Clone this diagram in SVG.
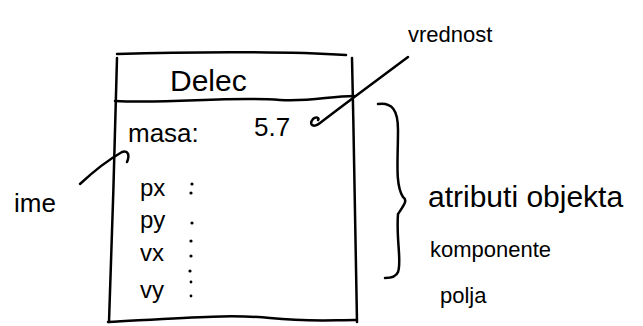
<svg xmlns="http://www.w3.org/2000/svg" width="643" height="326" viewBox="0 0 643 326">
<style>
.ln{fill:none;stroke:#000;stroke-width:2.5;stroke-linecap:round;stroke-linejoin:round}
.t{font-family:"Liberation Sans","DejaVu Sans",sans-serif;font-size:26px;fill:#000}
.b{font-size:30px}
.s{font-size:24px}
.r{font-size:22px}
</style>
<rect width="643" height="326" fill="#fff"/>
<g id="delec">
<path class="ln" d="M117,54 C180,52 280,51 346,55"/>
<path class="ln" d="M117,58 C115,130 112,250 109,322"/>
<path class="ln" d="M352,58 C354,150 356,250 357,322"/>
<path class="ln" d="M115,101 C170,104 230,96 280,100 C310,102 330,96 354,96"/>
<path class="ln" d="M108,322 C180,318 230,314 270,318 C310,322 330,320 356,320"/>
<text class="t b" x="170" y="91">Delec</text>
<text class="t" x="128" y="142">masa:</text>
<text class="t" x="254" y="136">5.7</text>
<text class="t s" x="140" y="196">px</text>
<text class="t s" x="140" y="228">py</text>
<text class="t s" x="140" y="261">vx</text>
<text class="t s" x="140" y="298">vy</text>
<g fill="#000">
<circle cx="192" cy="184" r="1.6"/><circle cx="191" cy="193" r="1.6"/>
<circle cx="192" cy="223" r="1.6"/><circle cx="191" cy="241" r="1.6"/>
<circle cx="191" cy="256" r="1.6"/><circle cx="190" cy="271" r="1.6"/>
<circle cx="191" cy="282" r="1.4"/><circle cx="191" cy="296" r="1.4"/>
</g>
</g>
<g id="ime"><text class="t" x="14" y="212">ime</text></g>
<g id="vrednost"><text class="t r" x="408" y="42">vrednost</text></g>
<g id="atributi">
<text class="t b" x="428" y="207">atributi objekta</text>
<text class="t r" x="430" y="257">komponente</text>
<text class="t r" x="440" y="303">polja</text>
</g>
<g id="connectors">
<path class="ln" d="M80,184 C95,170 108,160 122,152 C128,150 130,155 127,162"/>
<path class="ln" d="M408,57 C380,78 350,100 320,123 C314,128 308,125 313,119 C316,116 320,118 318,120"/>
<path class="ln" d="M378,104 C392,102 398,110 398,130 C398,160 395,185 403,197 C408,200 404,205 398,214 C396,240 402,262 398,272 C396,277 390,278 385,278"/>
</g>
</svg>
